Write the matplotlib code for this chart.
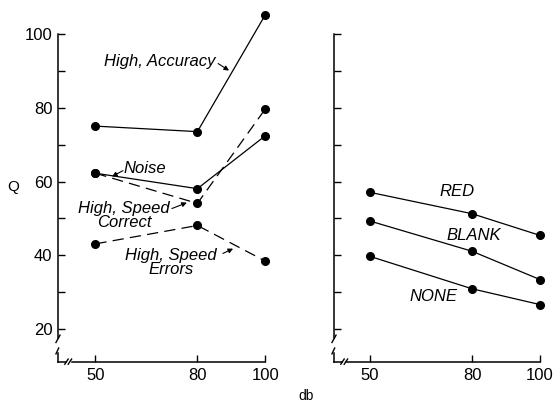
import matplotlib
matplotlib.use("Agg")
import matplotlib.pyplot as plt

db = [50, 80, 100]

high_accuracy = [75.1, 73.6, 105.4]
noise = [62.3, 58.1, 72.5]
high_speed_correct = [62.3, 54.1, 79.8]
high_speed_errors = [43.1, 48.1, 38.4]

red = [57.1, 51.3, 45.4]
blank = [49.3, 41.1, 33.4]
none_ = [39.7, 30.9, 26.6]

xticks = [50, 80, 100]
yticks_major = [20, 40, 60, 80, 100]
yticks_all = [20, 30, 40, 50, 60, 70, 80, 90, 100]

plt.rcParams['font.family'] = ['Liberation Sans', 'DejaVu Sans']

fig = plt.figure(figsize=(5.54, 4.03), dpi=100)
H = 403.0
W = 554.0
ybot_px = 362
axh = 349.6 / H
axb = (H - ybot_px) / H
axL = fig.add_axes([58 / W, axb, 212.5 / W, axh])
axR = fig.add_axes([334 / W, axb, 209.4 / W, axh])

YMIN, YMAX = 11, 106
lw = 0.9
ms = 5.5
dash = (9, 5)


def style(ax, xmin, xmax, labels=True):
    ax.set_xlim(xmin, xmax)
    ax.set_ylim(YMIN, YMAX)
    for s in ['top', 'right']:
        ax.spines[s].set_visible(False)
    ax.spines['left'].set_bounds(17.5, 100)
    ax.spines['bottom'].set_bounds(43, 100)
    for s in ['left', 'bottom']:
        ax.spines[s].set_linewidth(1.1)
    ax.set_xticks(xticks)
    ax.set_xticklabels([str(v) for v in xticks], fontsize=12)
    ax.set_yticks(yticks_all)
    if labels:
        ax.set_yticklabels([str(v) if v in yticks_major else '' for v in yticks_all], fontsize=12)
    else:
        ax.set_yticklabels([])
    ax.tick_params(axis='both', direction='in', length=5, width=1.0, pad=4)
    # break marks on y axis
    ax.plot([xmin, xmin], [YMIN, 13.5], color='black', lw=1.1, clip_on=False)
    ax.plot([xmin - 0.6, xmin + 0.6], [16.3, 18.3], color='black', lw=1.0, clip_on=False)
    ax.plot([xmin - 0.6, xmin + 0.2], [13.2, 14.8], color='black', lw=1.0, clip_on=False)
    # break marks on x axis
    ax.plot([xmin, xmin + 2.3], [YMIN, YMIN], color='black', lw=1.1, clip_on=False)
    ax.plot([xmin + 2.0, xmin + 3.0], [10.4, 11.8], color='black', lw=1.0, clip_on=False)
    ax.plot([xmin + 3.0, xmin + 4.0], [10.4, 11.8], color='black', lw=1.0, clip_on=False)


style(axL, 39, 101.5, labels=True)
style(axR, 39.4, 101, labels=False)

# Left panel
axL.plot(db, high_accuracy, '-', color='black', lw=lw, marker='o', ms=ms, clip_on=False)
axL.plot(db, noise, '-', color='black', lw=lw, marker='o', ms=ms, clip_on=False)
axL.plot(db, high_speed_correct, '--', dashes=dash, color='black', lw=lw, marker='o', ms=ms, clip_on=False)
axL.plot(db, high_speed_errors, '--', dashes=dash, color='black', lw=lw, marker='o', ms=ms, clip_on=False)

tk = dict(fontsize=12, style='italic', ha='center', va='center', linespacing=0.9)
ap = dict(arrowstyle='-|>', color='black', lw=0.8, mutation_scale=7, shrinkA=0, shrinkB=0)

axL.text(69, 92.7, 'High, Accuracy', **tk)
axL.annotate('', xy=(89.3, 90.2), xytext=(86.1, 92.1), arrowprops=ap)
axL.text(64.6, 63.6, 'Noise', **tk)
axL.annotate('', xy=(54.9, 61.4), xytext=(58.1, 63.0), arrowprops=ap)
axL.text(58.4, 50.8, 'High, Speed\nCorrect', **tk)
axL.annotate('', xy=(76.9, 54.3), xytext=(72.5, 52.7), arrowprops=ap)
axL.text(72.2, 38.0, 'High, Speed\nErrors', **tk)
axL.annotate('', xy=(90.5, 41.8), xytext=(87.5, 40.5), arrowprops=ap)

axL.set_ylabel('Q', fontsize=11, rotation=0, va='center')
axL.yaxis.set_label_coords(-0.21, 0.5)

# Right panel
for series in (red, blank, none_):
    axR.plot(db, series, '-', color='black', lw=lw, marker='o', ms=ms, clip_on=False)
axR.text(75.6, 57.3, 'RED', **tk)
axR.text(80.6, 45.4, 'BLANK', **tk)
axR.text(68.8, 28.8, 'NONE', **tk)

fig.text(306 / W, 1 - 396 / H, 'db', fontsize=10, ha='center', va='center')

fig.savefig('out.png', dpi=100)
